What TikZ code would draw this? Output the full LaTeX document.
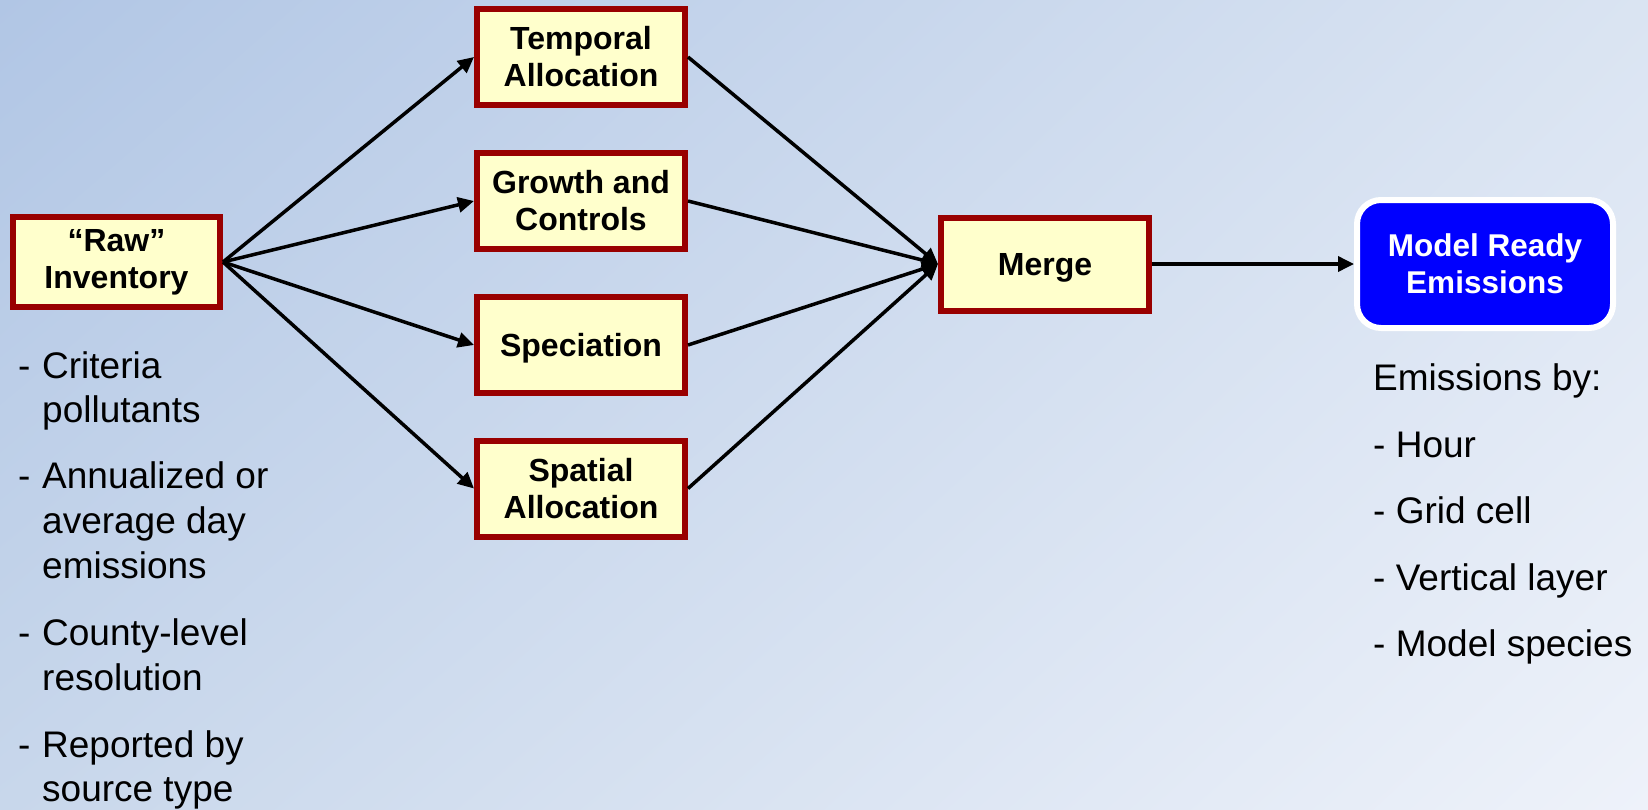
\documentclass[tikz,border=0pt]{standalone}
\usepackage{fontspec}
\setmainfont{Liberation Sans}
\usetikzlibrary{arrows.meta,shadings}
\definecolor{bgTL}{RGB}{177,198,229}
\definecolor{bgTR}{RGB}{218,228,242}
\definecolor{bgBL}{RGB}{200,215,235}
\definecolor{bgBR}{RGB}{238,242,250}
\definecolor{boxfill}{RGB}{255,255,204}
\definecolor{boxline}{RGB}{153,0,0}
\definecolor{modelblue}{RGB}{0,0,255}
\tikzset{
  procbox/.style={draw=boxline, fill=boxfill, line width=6pt, minimum width=208pt,
    minimum height=96pt, inner sep=0pt, align=center,
    font=\fontsize{32}{37}\selectfont\bfseries},
  conn/.style={line width=3.5pt, -{Triangle[length=16pt,width=15pt]}},
  listtext/.style={anchor=base west, inner sep=0pt, font=\fontsize{37}{44}\selectfont}
}
\begin{document}
\begin{tikzpicture}[x=1pt,y=-1pt]
\shade[upper left=bgTL, upper right=bgTR, lower left=bgBL, lower right=bgBR] (0,0) rectangle (1648,809);
\useasboundingbox (0,0) rectangle (1648,809);

\node[procbox, minimum width=207pt, minimum height=90pt] (raw) at (116.5,262) {``Raw''\\Inventory};
\node[procbox] (temp) at (581,57) {Temporal\\Allocation};
\node[procbox] (grow) at (581,201) {Growth and\\Controls};
\node[procbox, text depth=0pt] (spec) at (581,345) {Speciation};
\node[procbox] (spat) at (581,488.5) {Spatial\\Allocation};
\node[procbox, minimum height=93pt, text depth=0pt] (merge) at (1045,264) {Merge};
\node[draw=white, fill=modelblue, text=white, line width=6pt, rounded corners=24pt,
  minimum width=256pt, minimum height=128pt, inner sep=0pt, align=center,
  font=\fontsize{31.5}{37}\selectfont\bfseries] (model) at (1485,264) {Model Ready\\Emissions};

\draw[conn] (raw.east) -- (temp.west);
\draw[conn] (raw.east) -- (grow.west);
\draw[conn] (raw.east) -- (spec.west);
\draw[conn] (raw.east) -- (spat.west);
\draw[conn] (temp.east) -- (merge.west);
\draw[conn] (grow.east) -- (merge.west);
\draw[conn] (spec.east) -- (merge.west);
\draw[conn] (spat.east) -- (merge.west);
\draw[conn] (merge.east) -- (model.west);

% left list
\node[listtext] (d1) at (18,378) {-};
\node[listtext] (l1) at (42,378) {Criteria};
\node[listtext] (l1b) at (42,422) {pollutants};
\node[listtext] (d2) at (18,488) {-};
\node[listtext] (l2) at (42,488) {Annualized or};
\node[listtext] (l2b) at (42,533) {average day};
\node[listtext] (l2c) at (42,578) {emissions};
\node[listtext] (d3) at (18,645) {-};
\node[listtext] (l3) at (42,645) {County-level};
\node[listtext] (l3b) at (42,690) {resolution};
\node[listtext] (d4) at (18,757) {-};
\node[listtext] (l4) at (42,757) {Reported by};
\node[listtext] (l4b) at (42,801) {source type};

% right list
\node[listtext] (r0) at (1373,390) {Emissions by:};
\node[listtext] (r1) at (1373,457) {- Hour};
\node[listtext] (r2) at (1373,523) {- Grid cell};
\node[listtext] (r3) at (1373,590) {- Vertical layer};
\node[listtext] (r4) at (1373,656) {- Model species};
\end{tikzpicture}
\end{document}
